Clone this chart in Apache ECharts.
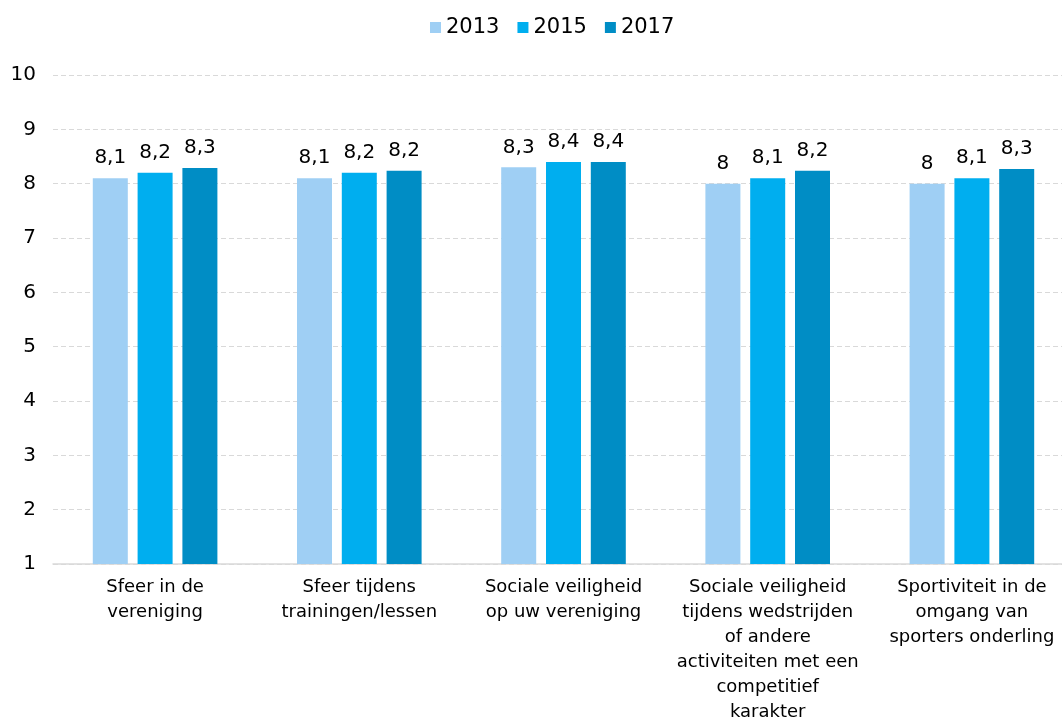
<!DOCTYPE html>
<html><head><meta charset="utf-8">
<script src="https://cdn.jsdelivr.net/npm/echarts@6/dist/echarts.min.js"></script>
<style>html,body{margin:0;padding:0;background:#fff;overflow:hidden}#c{width:1074px;height:725px}</style>
</head><body><div id="c"></div>
<script>
const categories = [
  "Sfeer in de\nvereniging",
  "Sfeer tijdens\ntrainingen/lessen",
  "Sociale veiligheid\nop uw vereniging",
  "Sociale veiligheid\ntijdens wedstrijden\nof andere\nactiviteiten met een\ncompetitief\nkarakter",
  "Sportiviteit in de\nomgang van\nsporters onderling"
];
const seriesNames = ["2013", "2015", "2017"];
const values2013 = [8.1, 8.1, 8.3, 8.0, 8.0];
const values2015 = [8.2, 8.2, 8.4, 8.1, 8.1];
const values2017 = [8.29, 8.24, 8.4, 8.24, 8.27];
const colors = ["#9FCFF4", "#00AEEF", "#008DC5"];
const yTicks = [1, 10, 1]; // min, max, interval

const fontFam = "DejaVu Sans";
const fmt = v => String(Number(v.toFixed(1))).replace('.', ',');
const allVals = [values2013, values2015, values2017];

const chart = echarts.init(document.getElementById('c'));
chart.setOption({
  animation: false,
  color: colors,
  legend: {
    top: 12, left: 425,
    itemWidth: 11, itemHeight: 11, itemGap: 18,
    icon: 'rect',
    textStyle: { fontFamily: fontFam, fontSize: 21, color: '#000' },
    data: seriesNames
  },
  grid: { left: 53, top: 75, bottom: 160, right: 0, containLabel: false },
  xAxis: {
    type: 'category', data: categories,
    axisLine: { lineStyle: { color: '#d9d9d9', width: 1.5 } },
    axisTick: { show: false },
    axisLabel: { interval: 0, fontFamily: fontFam, fontSize: 18, color: '#000', lineHeight: 25, margin: 11 }
  },
  yAxis: {
    type: 'value', min: yTicks[0], max: yTicks[1], interval: yTicks[2],
    axisLine: { show: false }, axisTick: { show: false },
    axisLabel: { fontFamily: fontFam, fontSize: 20, color: '#000', margin: 17 },
    splitLine: { lineStyle: { color: '#d9d9d9', type: [5, 3], width: 1.2 } }
  },
  series: seriesNames.map((n, i) => ({
    name: n, type: 'bar', data: allVals[i],
    barWidth: 35, barGap: '28%',
    label: { show: true, position: 'top', distance: 10, fontFamily: fontFam, fontSize: 20, color: '#000',
      formatter: p => fmt(p.value) }
  }))
});
</script></body></html>
